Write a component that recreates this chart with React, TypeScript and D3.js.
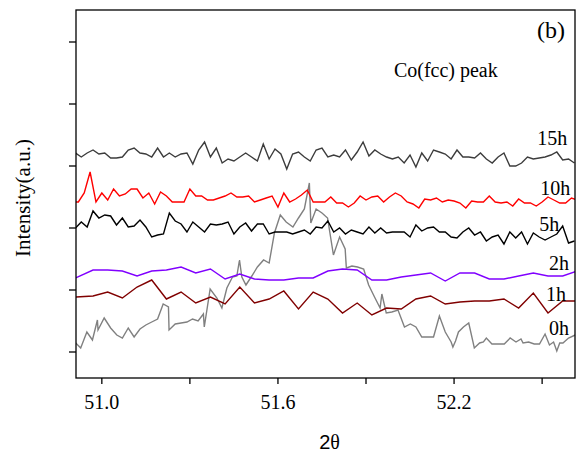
import React from 'react';
import * as d3 from 'd3';

// XRD scans around the Co(fcc) peak, 2θ vs intensity (a.u., stacked by milling time)
const h15: [number, number][] = [
  [50.91, 225], [50.93, 221], [50.95, 225], [50.97, 228], [50.99, 224], [51.01, 225], [51.03, 220], [51.05, 220],
  [51.07, 221], [51.09, 228], [51.11, 230], [51.13, 225], [51.15, 224], [51.17, 221], [51.19, 230], [51.21, 221],
  [51.23, 225], [51.25, 221], [51.27, 224], [51.29, 225], [51.31, 214], [51.33, 228], [51.35, 236], [51.37, 221],
  [51.39, 230], [51.41, 215], [51.43, 219], [51.45, 217], [51.47, 221], [51.49, 225], [51.51, 221], [51.53, 217],
  [51.55, 234], [51.57, 219], [51.59, 229], [51.61, 224], [51.63, 209], [51.65, 224], [51.67, 226], [51.69, 221],
  [51.71, 217], [51.73, 228], [51.75, 230], [51.77, 221], [51.79, 223], [51.81, 221], [51.83, 228], [51.85, 218],
  [51.87, 226], [51.89, 236], [51.91, 222], [51.93, 228], [51.95, 224], [51.97, 221], [51.99, 219], [52.01, 221],
  [52.03, 215], [52.05, 223], [52.07, 211], [52.09, 225], [52.11, 217], [52.13, 228], [52.15, 226], [52.17, 224],
  [52.19, 219], [52.21, 228], [52.23, 221], [52.25, 221], [52.27, 220], [52.29, 225], [52.31, 219], [52.33, 215],
  [52.35, 221], [52.37, 225], [52.39, 212], [52.41, 212], [52.43, 215], [52.45, 221], [52.47, 219], [52.49, 220],
  [52.51, 221], [52.53, 223], [52.55, 226], [52.57, 218], [52.59, 219], [52.61, 215],
];

const h10: [number, number][] = [
  [50.91, 176], [50.92, 176], [50.94, 185], [50.96, 206], [50.98, 176], [51.0, 185], [51.02, 178], [51.04, 189],
  [51.06, 182], [51.08, 184], [51.1, 189], [51.12, 189], [51.14, 180], [51.16, 185], [51.18, 174], [51.2, 186],
  [51.22, 182], [51.24, 176], [51.26, 176], [51.28, 176], [51.3, 189], [51.32, 182], [51.34, 182], [51.36, 178],
  [51.38, 178], [51.4, 180], [51.42, 182], [51.44, 185], [51.46, 181], [51.48, 181], [51.5, 182], [51.52, 176],
  [51.54, 178], [51.56, 180], [51.58, 182], [51.6, 171], [51.62, 185], [51.64, 176], [51.66, 179], [51.68, 183],
  [51.7, 188], [51.72, 176], [51.74, 176], [51.76, 176], [51.78, 181], [51.8, 175], [51.82, 175], [51.84, 171],
  [51.86, 175], [51.88, 182], [51.9, 178], [51.92, 181], [51.94, 182], [51.96, 176], [51.98, 181], [52.0, 185],
  [52.02, 182], [52.04, 176], [52.06, 174], [52.08, 170], [52.1, 179], [52.12, 178], [52.14, 180], [52.16, 176],
  [52.18, 178], [52.2, 177], [52.22, 175], [52.24, 170], [52.26, 177], [52.28, 176], [52.3, 176], [52.32, 182],
  [52.34, 176], [52.36, 175], [52.38, 176], [52.4, 172], [52.42, 179], [52.44, 175], [52.46, 175], [52.48, 172],
  [52.5, 176], [52.52, 181], [52.54, 178], [52.56, 175], [52.58, 175], [52.6, 180], [52.62, 178],
];

const h5: [number, number][] = [
  [50.91, 150], [50.93, 156], [50.95, 151], [50.97, 167], [50.99, 160], [51.01, 163], [51.03, 162], [51.05, 153],
  [51.07, 160], [51.09, 151], [51.11, 152], [51.13, 158], [51.15, 151], [51.17, 141], [51.19, 143], [51.21, 144],
  [51.23, 165], [51.25, 157], [51.27, 154], [51.29, 146], [51.31, 156], [51.33, 151], [51.35, 146], [51.37, 154],
  [51.39, 153], [51.41, 154], [51.43, 156], [51.45, 144], [51.47, 151], [51.49, 155], [51.51, 147], [51.53, 154],
  [51.55, 154], [51.57, 144], [51.59, 146], [51.61, 146], [51.63, 146], [51.65, 144], [51.67, 146], [51.69, 148],
  [51.71, 144], [51.73, 151], [51.75, 150], [51.77, 157], [51.79, 146], [51.81, 150], [51.83, 144], [51.85, 148],
  [51.87, 146], [51.89, 144], [51.91, 151], [51.93, 145], [51.95, 150], [51.97, 145], [51.99, 146], [52.01, 146],
  [52.03, 146], [52.05, 141], [52.07, 153], [52.09, 147], [52.11, 150], [52.13, 151], [52.15, 146], [52.17, 146],
  [52.19, 141], [52.21, 140], [52.23, 146], [52.25, 150], [52.27, 143], [52.29, 146], [52.31, 137], [52.33, 141],
  [52.35, 143], [52.37, 134], [52.39, 146], [52.41, 140], [52.43, 146], [52.45, 134], [52.47, 145], [52.49, 141],
  [52.51, 138], [52.53, 141], [52.55, 144], [52.57, 152], [52.59, 135], [52.61, 137],
];

const h2: [number, number][] = [
  [50.91, 100], [50.97, 108], [51.02, 108], [51.07, 107], [51.12, 102], [51.17, 107], [51.22, 108], [51.27, 111],
  [51.32, 105], [51.37, 109], [51.42, 99], [51.47, 104], [51.52, 99], [51.57, 98], [51.62, 98], [51.67, 100],
  [51.72, 100], [51.77, 107], [51.82, 109], [51.87, 108], [51.92, 98], [51.97, 98], [52.02, 101], [52.07, 103],
  [52.12, 105], [52.17, 97], [52.22, 105], [52.27, 105], [52.32, 99], [52.37, 99], [52.42, 102], [52.47, 105],
  [52.52, 102], [52.57, 102], [52.62, 107],
];

const h1: [number, number][] = [
  [50.91, 81], [50.97, 82], [51.02, 86], [51.07, 80], [51.12, 91], [51.17, 98], [51.22, 79], [51.27, 86],
  [51.32, 75], [51.37, 81], [51.42, 74], [51.47, 91], [51.52, 75], [51.57, 79], [51.62, 87], [51.67, 69],
  [51.72, 86], [51.77, 79], [51.82, 65], [51.87, 75], [51.92, 63], [51.97, 70], [52.02, 69], [52.07, 79],
  [52.12, 82], [52.17, 74], [52.22, 76], [52.27, 77], [52.32, 77], [52.37, 79], [52.42, 70], [52.47, 85],
  [52.52, 65], [52.57, 77], [52.62, 77],
];

const h0: [number, number][] = [
  [50.911, 35], [50.928, 30], [50.949, 46], [50.968, 38], [50.985, 58], [50.987, 48], [51.008, 60], [51.03, 50],
  [51.051, 43], [51.07, 40], [51.09, 50], [51.11, 41], [51.13, 49], [51.15, 53], [51.17, 56], [51.19, 59],
  [51.209, 74], [51.227, 71], [51.229, 48], [51.25, 54], [51.27, 55], [51.29, 56], [51.309, 59], [51.328, 57],
  [51.346, 64], [51.349, 51], [51.369, 89], [51.392, 80], [51.409, 70], [51.426, 90], [51.445, 101], [51.46, 102],
  [51.469, 118], [51.477, 101], [51.491, 93], [51.511, 102], [51.53, 111], [51.551, 118], [51.57, 115], [51.588, 145],
  [51.608, 163], [51.628, 156], [51.651, 151], [51.67, 160], [51.69, 169], [51.707, 195], [51.712, 155], [51.73, 169],
  [51.75, 165], [51.769, 160], [51.789, 123], [51.81, 141], [51.829, 129], [51.833, 110], [51.852, 112], [51.871, 111],
  [51.892, 109], [51.909, 93], [51.929, 81], [51.948, 70], [51.954, 84], [51.969, 65], [51.988, 66], [52.009, 68],
  [52.031, 51], [52.051, 54], [52.07, 51], [52.09, 41], [52.111, 41], [52.13, 41], [52.15, 62], [52.17, 46],
  [52.19, 36], [52.196, 31], [52.205, 37], [52.215, 46], [52.232, 51], [52.25, 55], [52.269, 30], [52.287, 35],
  [52.3, 36], [52.31, 40], [52.329, 34], [52.352, 34], [52.371, 34], [52.391, 40], [52.411, 36], [52.428, 39],
  [52.435, 35], [52.454, 36], [52.473, 34], [52.491, 34], [52.51, 44], [52.525, 33], [52.539, 36], [52.55, 27],
  [52.56, 35], [52.571, 35], [52.59, 40], [52.613, 43],
];

const seriesNames = ['0h', '1h', '2h', '5h', '10h', '15h'];
const seriesData = [h0, h1, h2, h5, h10, h15];
const seriesColors = ['#808080', '#800000', '#8000ff', '#000000', '#ff0000', '#3c3c3c'];
// where each curve's label sits: [2θ, intensity]
const labelAnchors: [number, number][] = [
  [52.523, 43], [52.513, 77], [52.523, 108], [52.49, 147], [52.494, 183], [52.483, 233],
];

const xDomain = [50.912, 52.612];
const yDomain = [0, 368];
const xMajorTicks = [51.0, 51.6, 52.2];
const xMinorTicks = [51.3, 51.9, 52.5];
const yTicks = [26, 88, 150, 212, 274, 336];

const serif = '"Liberation Serif", "Times New Roman", serif';
const sans = '"Liberation Sans", Arial, sans-serif';

export default function App() {
  const width = 578;
  const height = 455;
  const margin = { top: 10, right: 3, bottom: 77, left: 76 };

  const x = d3.scaleLinear().domain(xDomain).range([margin.left, width - margin.right]);
  const y = d3.scaleLinear().domain(yDomain).range([height - margin.bottom, margin.top]);

  const line = d3.line<[number, number]>()
    .x(d => x(d[0]))
    .y(d => y(d[1]));

  const x0 = margin.left;
  const x1 = width - margin.right;
  const y0 = height - margin.bottom;
  const y1 = margin.top;

  return (
    <svg width={width} height={height} viewBox={`0 0 ${width} ${height}`}
      style={{ position: 'absolute', left: 0, top: 0, background: '#fff' }}>
      <defs>
        <clipPath id="plot-clip">
          <rect x={x0} y={y1} width={x1 - x0} height={y0 - y1} />
        </clipPath>
      </defs>

      {/* Curves */}
      <g clipPath="url(#plot-clip)" fill="none" strokeWidth={1.4} strokeLinejoin="miter">
        {seriesData.map((s, i) => (
          <path key={seriesNames[i]} d={line(s) ?? ''} stroke={seriesColors[i]} />
        ))}
      </g>

      {/* Frame */}
      <rect x={x0} y={y1} width={x1 - x0} height={y0 - y1} fill="none" stroke="#000" strokeWidth={1.3} />

      {/* Y ticks, no labels */}
      {yTicks.map(t => (
        <line key={t} x1={x0 - 7} x2={x0} y1={y(t)} y2={y(t)} stroke="#000" strokeWidth={1.3} />
      ))}

      {/* X ticks */}
      {[...xMajorTicks, ...xMinorTicks].map(t => (
        <line key={t} x1={x(t)} x2={x(t)} y1={y0} y2={y0 + 6} stroke="#000" strokeWidth={1.3} />
      ))}
      {xMajorTicks.map(t => (
        <text key={t} x={x(t)} y={409} textAnchor="middle" fontFamily={serif} fontSize={20} fill="#000">
          {d3.format('.1f')(t)}
        </text>
      ))}

      {/* Axis titles */}
      <text x={(x0 + x1) / 2 + 4} y={449} textAnchor="middle" fontSize={20} fill="#000">
        <tspan fontFamily={sans}>2</tspan><tspan fontFamily={serif}>θ</tspan>
      </text>
      <text transform="translate(30,198) rotate(-90)" textAnchor="middle" fontFamily={serif} fontSize={21} fill="#000">
        Intensity(a.u.)
      </text>

      {/* Curve labels */}
      {seriesNames.map((n, i) => (
        <text key={n} x={x(labelAnchors[i][0])} y={y(labelAnchors[i][1])} fontFamily={serif} fontSize={20} fill="#000">
          {n}
        </text>
      ))}

      <text x={x(51.995)} y={77} fontFamily={serif} fontSize={20} fill="#000">Co(fcc) peak</text>
      <text x={537} y={37.5} fontFamily={serif} fontSize={24} fill="#000">(b)</text>
    </svg>
  );
}
